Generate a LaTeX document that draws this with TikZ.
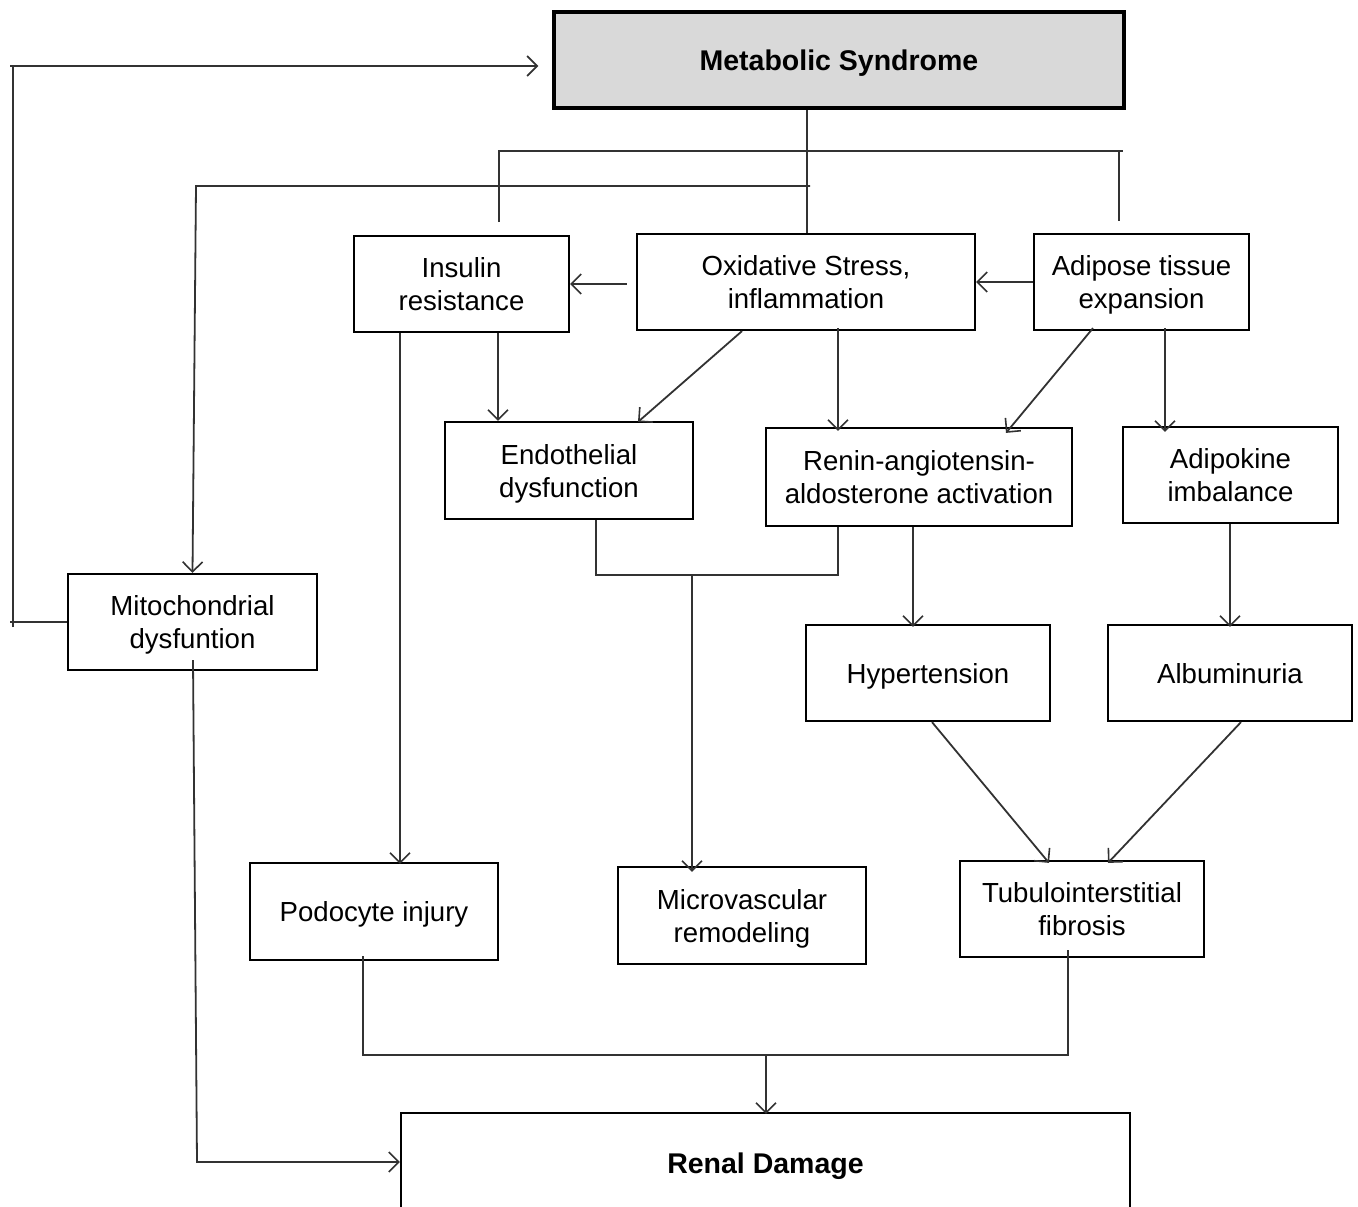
\documentclass[tikz,border=0pt]{standalone}
\usepackage{fontspec}
\setmainfont{Liberation Sans}
\usetikzlibrary{arrows.meta}
\definecolor{msfill}{RGB}{217,217,217}
\definecolor{conn}{RGB}{50,50,50}
\begin{document}
\begin{tikzpicture}[x=1pt,y=-1pt,
  box/.style={draw=black, line width=2.2pt, fill=white, inner sep=0pt, align=center, text depth=0pt,
    font=\fontsize{27.6}{33}\selectfont},
  boldbox/.style={box, font=\fontsize{28.5}{33}\selectfont\bfseries},
  link/.style={draw=conn, line width=1.8pt},
  arr/.style={link, -{Straight Barb[length=10pt,width=20pt,line width=1.6pt]}}]
\useasboundingbox (0,0) rectangle (1358,1207);
% nodes
\node[boldbox, fill=msfill, line width=3.5pt, minimum width=570, minimum height=96] (ms) at (839,60) {Metabolic Syndrome};
\node[box, minimum width=215, minimum height=96] (ins) at (461.5,284) {Insulin\\resistance};
\node[box, minimum width=338, minimum height=96] (ox) at (806,282) {Oxidative Stress,\\inflammation};
\node[box, minimum width=215, minimum height=96] (adi) at (1141.5,282) {Adipose tissue\\expansion};
\node[box, minimum width=248, minimum height=97] (endo) at (569,470.5) {Endothelial\\dysfunction};
\node[box, minimum width=306, minimum height=98] (ren) at (919,477) {Renin-angiotensin-\\aldosterone activation};
\node[box, minimum width=215, minimum height=96] (adk) at (1230.5,475) {Adipokine\\imbalance};
\node[box, minimum width=249, minimum height=96] (mito) at (192.5,622) {Mitochondrial\\dysfuntion};
\node[box, minimum width=244, minimum height=96] (hyp) at (928,673) {Hypertension};
\node[box, minimum width=244, minimum height=96] (alb) at (1230,673) {Albuminuria};
\node[box, minimum width=248, minimum height=97] (pod) at (374,911.5) {Podocyte injury};
\node[box, minimum width=248, minimum height=97] (mic) at (742,915.5) {Microvascular\\remodeling};
\node[box, minimum width=244, minimum height=96] (tub) at (1082,909) {Tubulointerstitial\\fibrosis};
\node[boldbox, minimum width=729, minimum height=100] (rd) at (765.5,1163) {Renal Damage};
% coordinates
\coordinate (j1) at (692,575);
\coordinate (j2) at (766,1055);
% top tree
\draw[link] (ms.south -| 807,0) -- (ox.north -| 807,0);
\draw[link] (499,222) -- (499,151) -- (1123,151);
\draw[link] (1119,151) -- (1119,221);
\draw[arr] (810,186) -- (196,186) -- (mito.north);
% feedback loop
\draw[link] (mito.west) -- (10,622);
\draw[link] (13,627) -- (13,66);
\draw[arr] (10,66) -- ([xshift=-14]ms.west |- 0,66);
% horizontal arrows
\draw[arr] ([xshift=-9]ox.west |- 0,284) -- (ins.east |- 0,284);
\draw[arr] (adi.west) -- (ox.east);
% downward arrows
\draw[arr] (ins.south -| 400,0) -- ([yshift=-2]pod.north -| 400,0);
\draw[arr] (ins.south -| 498,0) -- (endo.north -| 498,0);
\draw[arr] (ox.south -| 742,0) -- ([yshift=-1]endo.north -| 638,0);
\draw[arr] ([yshift=3]ox.south -| 838,0) -- ([yshift=-4]ren.north -| 838,0);
\draw[arr] ([yshift=3]adi.south -| 1093,0) -- ([yshift=-6]ren.north -| 1006,0);
\draw[arr] ([yshift=3]adi.south -| 1165,0) -- ([yshift=-6]adk.north -| 1165,0);
\draw[link] (endo.south -| 596,0) -- (596,575) -- (838,575) -- (ren.south -| 838,0);
\draw[arr] (j1) -- ([yshift=-6]mic.north -| j1);
\draw[arr] (ren.south -| 913,0) -- ([yshift=-3]hyp.north -| 913,0);
\draw[arr] (adk.south -| 1230,0) -- ([yshift=-3]alb.north);
\draw[arr] (hyp.south -| 932,0) -- ([yshift=-3]tub.north -| 1049,0);
\draw[arr] (alb.south -| 1241,0) -- ([yshift=-3]tub.north -| 1108,0);
\draw[link] ([yshift=5]pod.south -| 363,0) -- (363,1055) -- (1068,1055) -- ([yshift=8]tub.south -| 1068,0);
\draw[arr] (j2) -- ([yshift=-2]rd.north -| j2);
\draw[arr] ([yshift=11]mito.south -| 193,0) -- (197,1162) -- (rd.west |- 0,1162);
\end{tikzpicture}
\end{document}
